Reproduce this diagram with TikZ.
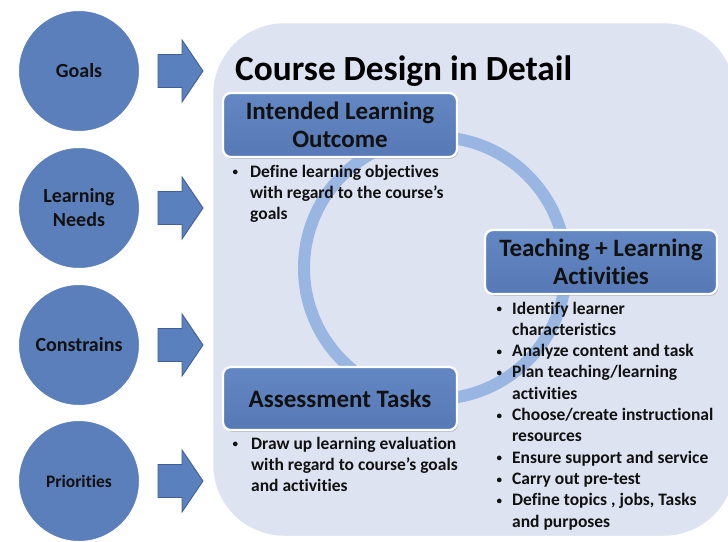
\documentclass[tikz,border=0pt]{standalone}
\usepackage{fontspec}
\setmainfont{Carlito}[Ligatures=NoCommon]
\usetikzlibrary{shadows}

\definecolor{discblue}{HTML}{5B7FBB}
\definecolor{arrowblue}{HTML}{5B80BE}
\definecolor{arrowedge}{HTML}{3F5F96}
\definecolor{panelfill}{HTML}{DDE3F0}
\definecolor{ringblue}{HTML}{99B5E2}
\definecolor{boxtop}{HTML}{6387C2}
\definecolor{boxbottom}{HTML}{577AB6}
\definecolor{ink}{HTML}{111111}

% bullet item with hanging indent; #1 = bullet box width
\newcommand{\bitem}[2]{\par\noindent\hangindent=#1\hangafter=1%
  \makebox[#1][l]{\hspace{1.5pt}\raisebox{1.2pt}{\fontsize{11}{11}\selectfont\textbullet}}#2}

\tikzset{
  disc/.style={circle, fill=discblue, draw=white, line width=3pt,
    minimum size=123pt, inner sep=0pt, align=center, text=ink,
    font=\bfseries\fontsize{20}{24}\selectfont,
    drop shadow={shadow xshift=0.8pt, shadow yshift=-1.2pt, opacity=0.25, fill=black!60}},
  blockarrow/.style={fill=arrowblue, draw=arrowedge, line width=0.9pt, line join=miter},
  panel/.style={rounded corners=72pt, fill=panelfill, draw=white, line width=2.5pt,
    drop shadow={shadow xshift=0.6pt, shadow yshift=-0.8pt, opacity=0.2, fill=black!50}},
  stagebox/.style={rounded corners=8pt, top color=boxtop, bottom color=boxbottom,
    draw=white, line width=2.2pt, align=center, text=ink, inner sep=0pt,
    font=\bfseries\fontsize{25}{27.5}\selectfont,
    drop shadow={shadow xshift=1.2pt, shadow yshift=-1.8pt, opacity=0.3, fill=black!60}},
  bulletlist/.style={anchor=base west, inner sep=0pt, text=ink,
    font=\bfseries\fontsize{17.5}{21.3}\selectfont},
  ring/.style={draw=ringblue, line width=12pt}
}

\begin{document}
\begin{tikzpicture}[x=1pt,y=-1pt]
\useasboundingbox (0,0) rectangle (728,541);
\clip (0,0) rectangle (728,541);

% background panel
\node[panel, minimum width=524pt, minimum height=515pt] (panel) at (474,279.5) {};

% title
\node[anchor=base west, inner sep=0pt, text=black, font=\bfseries\fontsize{35.3}{40}\selectfont]
  (title) at (235,80) {Course Design in Detail};

% cycle ring behind the three stages
\node[circle, ring, minimum size=262pt, inner sep=0pt] (cycle) at (435,268) {};

% the three stages
\node[stagebox, minimum width=234pt, minimum height=64pt] (ilo) at (340,125)
  {Intended Learning\\Outcome};
\node[stagebox, minimum width=232pt, minimum height=64pt] (tla) at (601,262)
  {Teaching + Learning\\Activities};
\node[stagebox, minimum width=234pt, minimum height=63pt] (at) at (340,398.5)
  {Assessment Tasks};

% stage details
\node[bulletlist] (ilolist) at (231,177) {\parbox[t]{240pt}{\raggedright
  \bitem{19pt}{Define learning objectives\newline with regard to the course’s\newline goals}}};
\node[bulletlist] (tlalist) at (495,314) {\parbox[t]{240pt}{\raggedright
  \bitem{17pt}{Identify learner\newline characteristics}
  \bitem{17pt}{Analyze content and task}
  \bitem{17pt}{Plan teaching/learning\newline activities}
  \bitem{17pt}{Choose/create instructional\newline resources}
  \bitem{17pt}{Ensure support and service}
  \bitem{17pt}{Carry out pre-test}
  \bitem{17pt}{Define topics , jobs, Tasks\newline and purposes}}};
\node[bulletlist] (atlist) at (231,449) {\parbox[t]{260pt}{\raggedright
  \bitem{20pt}{Draw up learning evaluation\newline with regard to course’s goals\newline and activities}}};

% inputs on the left
\node[disc] (goals) at (79,71) {Goals};
\node[disc] (needs) at (79,208) {Learning\\Needs};
\node[disc] (constr) at (79,345) {Constrains};
\node[disc, font=\bfseries\fontsize{17.5}{21}\selectfont] (prio) at (79,481) {Priorities};

% block arrows into the panel
\foreach \y in {71,208,345,481}{
  \draw[blockarrow] (158,\y-16.5) -- (182,\y-16.5) -- (182,\y-31) -- (203,\y)
    -- (182,\y+31) -- (182,\y+16.5) -- (158,\y+16.5) -- cycle;
}
\end{tikzpicture}
\end{document}
